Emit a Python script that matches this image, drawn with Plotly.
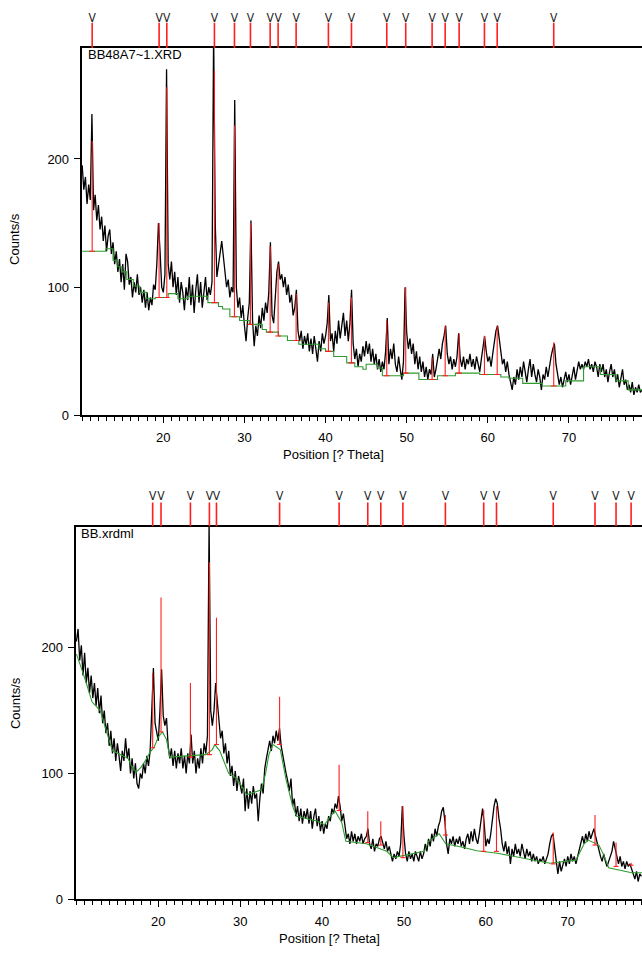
import numpy as np
import plotly.graph_objects as go

# ---------------- data ----------------
# 2-theta sampling grid (degrees), 0.2 deg steps
two_theta = np.round(np.arange(10.0, 79.0001, 0.2), 1)

# Top pattern (BB48A7~1.XRD) counts/s
top_counts = [
    195, 176, 186, 165, 180, 168, 235, 160, 172, 152,   # 10.0-11.8
    164, 145, 155, 136, 148, 128, 140, 145, 126, 135,   # 12.0-13.8
    118, 128, 112, 122, 104, 118, 98, 126, 120, 102,    # 14.0-15.8
    108, 92, 104, 96, 110, 94, 100, 88, 98, 84,         # 16.0-17.8
    96, 82, 92, 86, 102, 98, 118, 150, 128, 100,        # 18.0-19.8
    96, 110, 270, 118, 106, 120, 100, 112, 94, 108,     # 20.0-21.8
    88, 104, 96, 82, 100, 90, 108, 86, 102, 80,         # 22.0-23.8
    98, 110, 88, 104, 84, 96, 108, 90, 100, 94,         # 24.0-25.8
    104, 300, 150, 108, 118, 128, 136, 124, 112, 100,   # 26.0-27.8
    106, 92, 100, 96, 246, 100, 84, 92, 76, 86,         # 28.0-29.8
    70, 58, 76, 88, 152, 74, 54, 70, 62, 78,            # 30.0-31.8
    68, 84, 74, 88, 80, 96, 135, 78, 72, 96,            # 32.0-33.8
    112, 120, 106, 110, 100, 108, 94, 102, 88, 94,      # 34.0-35.8
    78, 84, 98, 66, 58, 66, 52, 62, 55, 64,             # 36.0-37.8
    50, 60, 48, 62, 52, 42, 58, 50, 64, 56,             # 38.0-39.8
    62, 72, 94, 58, 64, 50, 66, 56, 74, 60,             # 40.0-41.8
    70, 80, 62, 74, 58, 72, 98, 56, 44, 52,             # 42.0-43.8
    38, 48, 42, 54, 46, 58, 48, 56, 42, 52,             # 44.0-45.8
    40, 48, 36, 44, 34, 42, 36, 50, 76, 40,             # 46.0-47.8
    52, 44, 56, 40, 34, 46, 36, 28, 42, 100,            # 48.0-49.8
    64, 52, 60, 48, 56, 40, 50, 36, 46, 34,             # 50.0-51.8
    42, 30, 38, 28, 36, 32, 48, 30, 36, 46,             # 52.0-53.8
    52, 44, 56, 62, 70, 48, 40, 46, 36, 44,             # 54.0-55.8
    38, 46, 64, 44, 38, 46, 36, 44, 40, 48,             # 56.0-57.8
    38, 44, 36, 46, 40, 34, 44, 52, 62, 50,             # 58.0-59.8
    42, 46, 38, 48, 56, 66, 70, 58, 50, 40,             # 60.0-61.8
    44, 34, 42, 32, 26, 20, 30, 24, 36, 28,             # 62.0-63.8
    38, 30, 42, 34, 26, 36, 44, 30, 40, 32,             # 64.0-65.8
    26, 36, 30, 20, 32, 28, 38, 30, 40, 46,             # 66.0-67.8
    52, 56, 40, 30, 24, 30, 22, 28, 34, 26,             # 68.0-69.8
    32, 24, 30, 38, 28, 34, 42, 36, 40, 36,             # 70.0-71.8
    42, 38, 44, 36, 40, 34, 42, 38, 30, 40,             # 72.0-73.8
    34, 40, 30, 36, 26, 34, 40, 30, 36, 26,             # 74.0-75.8
    32, 22, 30, 36, 24, 28, 20, 24, 18, 26,             # 76.0-77.8
    16, 22, 18, 24, 18, 20,                             # 78.0-79.0
]

# Top background (green step line)
top_bg_x = [10.0, 12.9, 13.8, 14.4, 14.9, 15.5, 16.3, 17.1, 17.9, 19.0, 20.6, 21.8,
            23.0, 25.5, 26.8, 27.3, 28.2, 29.4, 30.6, 32.2, 32.7, 34.2, 35.3, 36.7,
            39.2, 40.0, 41.0, 42.6, 43.6, 44.6, 45.0, 46.4, 47.0, 49.6, 51.5, 53.8,
            56.0, 59.0, 61.6, 62.6, 64.3, 66.7, 69.6, 71.8, 73.9, 75.8, 77.3, 79.2]
top_bg_y = [128, 130, 121, 116, 112, 106, 101, 96, 91, 92, 95, 91,
            93, 88, 85, 83, 77, 74, 71, 67, 65, 62, 58.5, 55.5,
            52, 50, 46, 41, 38, 36, 40, 37, 31, 33, 28, 31,
            33, 32, 30, 29, 25, 23, 27, 38, 32, 27, 20, 20]

# Top identified peaks (red drop lines + reference markers)
top_peak_pos = [11.23, 19.48, 20.43, 26.30, 28.77, 30.74, 33.17, 34.15, 36.37, 40.35,
                43.19, 47.54, 49.88, 53.13, 54.74, 56.46, 59.58, 61.15, 68.12]
top_peak_base = [128, 92, 92, 88, 77, 71, 65, 62, 58.5, 50,
                 41, 31, 33, 28, 31, 33, 32, 32, 23]
top_peak_top = [214, 150, 256, 269, 226, 150, 132, 118, 95, 88,
                92, 74, 100, 45, 70, 64, 62, 70, 57]

# Bottom pattern (BB.xrdml)
bottom_counts = [
    205, 215, 190, 202, 178, 196, 172, 184, 164, 178,   # 10.0-11.8
    160, 172, 154, 168, 148, 162, 140, 150, 132, 140,   # 12.0-13.8
    122, 134, 116, 128, 110, 124, 114, 102, 118, 110,   # 14.0-15.8
    128, 112, 120, 100, 112, 96, 108, 92, 88, 100,      # 16.0-17.8
    96, 108, 100, 114, 106, 118, 150, 184, 140, 132,    # 18.0-19.8
    126, 150, 183, 146, 138, 144, 122, 112, 120, 106,   # 20.0-21.8
    118, 104, 116, 108, 120, 104, 114, 100, 116, 108,   # 22.0-23.8
    131, 108, 118, 100, 112, 104, 120, 108, 124, 116,   # 24.0-25.8
    130, 300, 150, 138, 150, 172, 158, 142, 128, 134,   # 26.0-27.8
    116, 124, 108, 118, 98, 106, 90, 102, 86, 98,       # 28.0-29.8
    90, 84, 96, 70, 88, 72, 86, 76, 90, 80,             # 30.0-31.8
    84, 62, 80, 92, 84, 104, 112, 120, 126, 118,        # 32.0-33.8
    130, 124, 134, 126, 136, 122, 114, 106, 100, 94,    # 34.0-35.8
    86, 96, 74, 80, 66, 74, 62, 72, 60, 70,             # 36.0-37.8
    64, 72, 60, 70, 56, 66, 72, 58, 66, 54,             # 38.0-39.8
    62, 52, 60, 56, 66, 62, 72, 68, 76, 72,             # 40.0-41.8
    82, 74, 62, 68, 56, 48, 52, 44, 54, 46,             # 42.0-43.8
    52, 44, 50, 46, 52, 44, 48, 50, 56, 44,             # 44.0-45.8
    40, 48, 38, 44, 42, 48, 50, 44, 40, 46,             # 46.0-47.8
    38, 42, 36, 30, 36, 32, 38, 34, 44, 74,             # 48.0-49.8
    50, 36, 30, 38, 32, 36, 30, 38, 34, 30,             # 50.0-51.8
    38, 32, 36, 44, 38, 48, 42, 52, 46, 56,             # 52.0-53.8
    50, 58, 62, 70, 73, 62, 44, 36, 48, 44,             # 54.0-55.8
    50, 42, 48, 44, 50, 42, 46, 40, 48, 52,             # 56.0-57.8
    44, 54, 46, 56, 48, 44, 52, 62, 72, 60,             # 58.0-59.8
    42, 48, 44, 52, 64, 74, 80, 76, 64, 56,             # 60.0-61.8
    44, 38, 46, 36, 42, 28, 40, 34, 44, 36,             # 62.0-63.8
    40, 34, 44, 38, 32, 40, 34, 38, 30, 36,             # 64.0-65.8
    30, 34, 28, 32, 30, 34, 28, 32, 36, 44,             # 66.0-67.8
    50, 52, 38, 30, 20, 30, 22, 28, 32, 26,             # 68.0-69.8
    34, 28, 36, 30, 34, 28, 34, 38, 44, 50,             # 70.0-71.8
    44, 52, 46, 54, 48, 52, 56, 50, 44, 40,             # 72.0-73.8
    34, 30, 36, 30, 26, 30, 34, 38, 46, 40,             # 74.0-75.8
    32, 28, 34, 26, 30, 24, 30, 26, 28, 24,             # 76.0-77.8
    20, 16, 22, 14, 20, 18,                             # 78.0-79.0
]

# Bottom background (green line)
bottom_bg_x = [10.0, 10.4, 10.8, 11.2, 11.6, 11.9, 12.9, 13.3, 13.8, 14.4, 16.3, 16.7,
               17.3, 17.9, 18.5, 19.0, 19.5, 20.0, 20.5, 21.0, 21.4, 25.8, 26.6, 26.9,
               27.5, 28.0, 28.6, 29.6, 30.3, 30.8, 32.6, 33.1, 33.5, 34.0, 34.9, 35.2,
               35.6, 36.1, 36.5, 36.9, 39.5, 40.3, 40.9, 41.6, 42.4, 42.9, 45.4, 47.9,
               48.7, 52.5, 53.0, 54.3, 55.1, 57.3, 58.9, 61.4, 63.4, 65.4, 67.8, 71.0,
               71.5, 72.0, 72.5, 73.8, 74.4, 75.0, 77.8, 79.2]
bottom_bg_y = [195, 188, 180, 172, 164, 157, 150, 141, 130, 118, 112, 106,
               101, 105, 111, 117, 121, 129, 133, 127, 113, 115, 119, 123,
               118, 110, 100, 96, 89, 83, 87, 100, 115, 123, 119, 108,
               95, 82, 72, 66, 62, 59, 65, 70, 61, 46, 44, 38,
               33, 38, 46, 52, 44, 41, 38.5, 36.5, 34, 31, 28.5, 31,
               37, 44, 47, 43, 35, 25, 21, 21]

bottom_peak_pos = [19.31, 20.33, 23.92, 26.24, 27.10, 34.81, 42.08, 45.58, 47.17,
                   49.87, 55.06, 59.74, 61.30, 68.23, 73.33, 75.90, 77.74]
bottom_peak_base = [120.5, 133, 113, 115, 123, 123, 70.5, 45, 43,
                    33, 51, 38, 38, 28, 43, 26, 27]
bottom_peak_top = [180, 240, 172, 268, 224, 161, 107, 70, 62,
                   74, 67, 71, 74, 53, 67, 45, 29]

x_tick_vals = [20, 30, 40, 50, 60, 70]
y_tick_vals = [0, 100, 200]
top_label = "BB48A7~1.XRD"
bottom_label = "BB.xrdml"
x_title = "Position [? Theta]"
y_title = "Counts/s"

# ---------------- styling ----------------
FONT = "Liberation Sans, Arial, sans-serif"
BLACK = "#000000"
GREEN = "#2f9a2f"
RED = "#ff1f1f"
W, H = 642, 954


def px_to_paper_y(py):
    return 1 - py / H


def drop_lines(pos, base, top, half):
    xs, ys = [], []
    for p, b, t in zip(pos, base, top):
        xs += [p, p, None, p - half, p + half, None]
        ys += [b, t, None, b, b, None]
    return xs, ys


def strip_lines(pos):
    xs, ys = [], []
    for p in pos:
        xs += [p, p, None]
        ys += [0, 1, None]
    return xs, ys


fig = go.Figure()

panels = [
    dict(xa="x", ya="y", xs="x2", ys="y2", counts=top_counts, bgx=top_bg_x, bgy=top_bg_y,
         bg_shape="hv", pos=top_peak_pos, base=top_peak_base, top=top_peak_top, half=0.35,
         v_level=1.17),
    dict(xa="x3", ya="y3", xs="x4", ys="y4", counts=bottom_counts, bgx=bottom_bg_x,
         bgy=bottom_bg_y, bg_shape="linear", pos=bottom_peak_pos, base=bottom_peak_base,
         top=bottom_peak_top, half=0.3, v_level=1.22),
]

for p in panels:
    fig.add_trace(go.Scatter(x=two_theta, y=p["counts"], mode="lines",
                             line=dict(color=BLACK, width=1.3),
                             xaxis=p["xa"], yaxis=p["ya"], hoverinfo="skip"))
    fig.add_trace(go.Scatter(x=p["bgx"], y=p["bgy"], mode="lines",
                             line=dict(color=GREEN, width=1.1, shape=p["bg_shape"]),
                             xaxis=p["xa"], yaxis=p["ya"], hoverinfo="skip"))
    dx, dy = drop_lines(p["pos"], p["base"], p["top"], p["half"])
    fig.add_trace(go.Scatter(x=dx, y=dy, mode="lines",
                             line=dict(color=RED, width=1.1),
                             xaxis=p["xa"], yaxis=p["ya"], hoverinfo="skip"))
    sx, sy = strip_lines(p["pos"])
    fig.add_trace(go.Scatter(x=sx, y=sy, mode="lines",
                             line=dict(color=RED, width=1.6),
                             xaxis=p["xs"], yaxis=p["ys"], hoverinfo="skip"))
    fig.add_trace(go.Scatter(x=p["pos"], y=[p["v_level"]] * len(p["pos"]), mode="text",
                             text=["V"] * len(p["pos"]), textposition="middle center",
                             textfont=dict(family="Liberation Sans Narrow, DejaVu Sans Condensed, sans-serif",
                                           size=12, color="#222222"),
                             cliponaxis=False,
                             xaxis=p["xs"], yaxis=p["ys"], hoverinfo="skip"))


def main_x(domain, rng, anchor):
    return dict(domain=domain, range=rng, anchor=anchor, showline=True, linewidth=2,
                linecolor=BLACK, mirror=True, ticks="outside", ticklen=6, tickwidth=1,
                tickcolor=BLACK, tickmode="array", tickvals=x_tick_vals,
                minor=dict(tickmode="linear", tick0=0, dtick=1, ticks="outside",
                           ticklen=4, tickwidth=1, tickcolor=BLACK, showgrid=False),
                showgrid=False, zeroline=False, tickfont=dict(family=FONT, size=13, color=BLACK),
                ticklabelstandoff=3, fixedrange=True)


def main_y(domain, rng, anchor):
    return dict(domain=domain, range=rng, anchor=anchor, showline=True, linewidth=2,
                linecolor=BLACK, mirror=False, ticks="outside", ticklen=6, tickwidth=1,
                tickcolor=BLACK, tickmode="array", tickvals=y_tick_vals,
                showgrid=False, zeroline=False, tickfont=dict(family=FONT, size=13, color=BLACK),
                ticklabelstandoff=2, fixedrange=True)


def strip_axis(domain, rng, anchor):
    return dict(domain=domain, range=rng, anchor=anchor, visible=False, fixedrange=True)


# strip axes span 1.5 units: marker lines fill 0..1, the "V" glyphs sit above
top_xdom = [81.7 / W, 1.0]
bot_xdom = [75.7 / W, 1.0]
top_ydom = [px_to_paper_y(419), px_to_paper_y(48.3)]
top_sdom = [px_to_paper_y(48.3), px_to_paper_y(48.3 - 1.5 * 25.3)]
bot_ydom = [px_to_paper_y(906.7), px_to_paper_y(531)]
bot_sdom = [px_to_paper_y(531), px_to_paper_y(531 - 1.5 * 24.3)]

fig.update_layout(
    width=W, height=H,
    margin=dict(l=0, r=0, t=0, b=0),
    paper_bgcolor="white", plot_bgcolor="white",
    showlegend=False,
    font=dict(family=FONT, size=13, color=BLACK),
    xaxis=main_x(top_xdom, [9.94, 79.0], "y"),
    yaxis=main_y(top_ydom, [0, 286.6], "x"),
    xaxis2=strip_axis(top_xdom, [9.94, 79.0], "y2"),
    yaxis2=strip_axis(top_sdom, [0, 1.5], "x2"),
    xaxis3=main_x(bot_xdom, [9.91, 79.07], "y3"),
    yaxis3=main_y(bot_ydom, [0, 296.5], "x3"),
    xaxis4=strip_axis(bot_xdom, [9.91, 79.07], "y4"),
    yaxis4=strip_axis(bot_sdom, [0, 1.5], "x4"),
)

annotations = [
    dict(text=top_label, x=86 / W, y=px_to_paper_y(55), xanchor="left", yanchor="middle"),
    dict(text=bottom_label, x=79 / W, y=px_to_paper_y(538), xanchor="left", yanchor="middle"),
    dict(text=x_title, x=333 / W, y=px_to_paper_y(458), xanchor="center", yanchor="middle"),
    dict(text=x_title, x=330 / W, y=px_to_paper_y(946), xanchor="center", yanchor="middle"),
    dict(text=y_title, x=15 / W, y=px_to_paper_y(241), xanchor="center", yanchor="middle",
         textangle=-90),
    dict(text=y_title, x=15 / W, y=px_to_paper_y(709), xanchor="center", yanchor="middle",
         textangle=-90),
]
for a in annotations:
    a.update(xref="paper", yref="paper", showarrow=False,
             font=dict(family=FONT, size=13, color=BLACK))
fig.update_layout(annotations=annotations)

fig.write_html("out.html", config={"displayModeBar": False})
